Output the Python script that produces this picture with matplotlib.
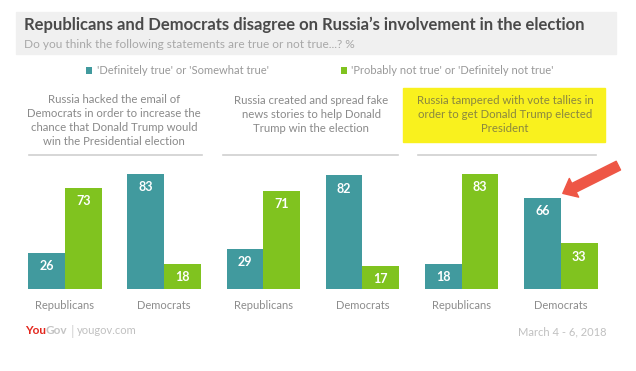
import numpy as np
import matplotlib
matplotlib.use('Agg')
import matplotlib.pyplot as plt
from matplotlib.patches import Rectangle
from matplotlib.lines import Line2D

plt.rcParams['font.family'] = ['Lato', 'DejaVu Sans']

groups = ['Republicans', 'Democrats', 'Republicans', 'Democrats', 'Republicans', 'Democrats']
true_vals = [26, 83, 29, 82, 18, 66]
not_true_vals = [73, 18, 71, 17, 83, 33]
series_names = ["'Definitely true' or 'Somewhat true'",
                "'Probably not true' or 'Definitely not true'"]
statements = ['Russia hacked the email of\nDemocrats in order to increase the\nchance that Donald Trump would\nwin the Presidential election',
              'Russia created and spread fake\nnews stories to help Donald\nTrump win the election',
              'Russia tampered with vote tallies in\norder to get Donald Trump elected\nPresident']

teal = '#419a9e'
green = '#80c31f'
W, H = 636, 371


def fx(x):
    return x / W


def fy(y):
    return 1 - y / H


fig = plt.figure(figsize=(6.36, 3.71), dpi=100)

# header box
fig.patches.append(Rectangle((fx(16), fy(54)), fx(600), 42 / H, transform=fig.transFigure,
                             color='#f0f0f0', zorder=0))
fig.text(fx(24), fy(25), 'Republicans and Democrats disagree on Russia\u2019s involvement in the election',
         fontsize=12, fontweight='bold', color='#4a4a4a', va='center')
fig.text(fx(24), fy(44), 'Do you think the following statements are true or not true...? %',
         fontsize=8.6, color='#a8a8a8', va='center')

ax = fig.add_axes([fx(15.4), (H - 289.3) / H, 595 / W, 139 / H])
x = np.arange(len(groups))
w = 0.37
b1 = ax.bar(x - w / 2, true_vals, w, color=teal, label=series_names[0])
b2 = ax.bar(x + w / 2, not_true_vals, w, color=green, label=series_names[1])
for bars in (b1, b2):
    for r in bars:
        ax.text(r.get_x() + r.get_width() / 2, r.get_height() - 9.5, f'{int(r.get_height())}',
                ha='center', va='center', color='white', fontsize=9, fontweight='bold')

ax.set_xlim(-0.5, 5.5)
ax.set_ylim(0, 100)
ax.set_xticks(x)
ax.set_xticklabels(groups, fontsize=8, color='#8c8c8c')
ax.tick_params(axis='x', length=0, pad=8)
ax.set_yticks([])
for s in ax.spines.values():
    s.set_visible(False)

fig.legend(handles=[b1, b2], labels=series_names, loc='center', ncol=2,
           bbox_to_anchor=(fx(320), fy(71)), frameon=False, fontsize=8,
           handlelength=0.55, handleheight=0.55, handletextpad=0.4, columnspacing=6.5,
           labelcolor='#999999')

# statement panels
fig.patches.append(Rectangle((fx(403), fy(142)), fx(202), 54 / H, transform=fig.transFigure,
                             color='#f9f11e', zorder=0))
centers = [114, 311, 505]
tops = [94, 95, 95]
colors = ['#8a8a8a', '#8a8a8a', '#8a8740']
for c, t, s, col in zip(centers, tops, statements, colors):
    fig.text(fx(c), fy(t), s, ha='center', va='top', fontsize=8.2, color=col, linespacing=1.35)
for x0, x1 in [(29, 202), (223, 398), (418, 596)]:
    fig.lines.append(Line2D([fx(x0), fx(x1)], [fy(155), fy(155)], transform=fig.transFigure,
                            color='#d0d0d0', lw=1.2))

# arrow pointing at the Democrats tally bar
ax.annotate('', xy=(5.02, 69), xytext=(40, 20), textcoords='offset points',
            arrowprops=dict(arrowstyle='simple,head_length=0.9,head_width=1.5,tail_width=0.7',
                            color='#ee5645', shrinkA=0, shrinkB=0))

# footer
you = fig.text(fx(25), fy(331), 'You', fontsize=8.5, fontweight='bold', color='#e3261c', va='center')
gov = ax.annotate('Gov', xy=(1, 0.5), xycoords=you, fontsize=8.5, fontweight='bold',
                  color='#c4c4c4', va='center', ha='left', annotation_clip=False)
bar_ = ax.annotate('|', xy=(1, 0.5), xycoords=gov, xytext=(2, 0), textcoords='offset points',
                   fontsize=10, color='#d4d4d4', va='center', ha='left', annotation_clip=False)
ax.annotate('yougov.com', xy=(1, 0.5), xycoords=bar_, xytext=(2, 0), textcoords='offset points',
            fontsize=8, color='#c0c0c0', va='center', ha='left', annotation_clip=False)
fig.text(fx(607), fy(332), 'March 4 - 6, 2018', fontsize=8, color='#c0c0c0', va='center', ha='right')

fig.savefig('out.png', dpi=100, facecolor='white')
